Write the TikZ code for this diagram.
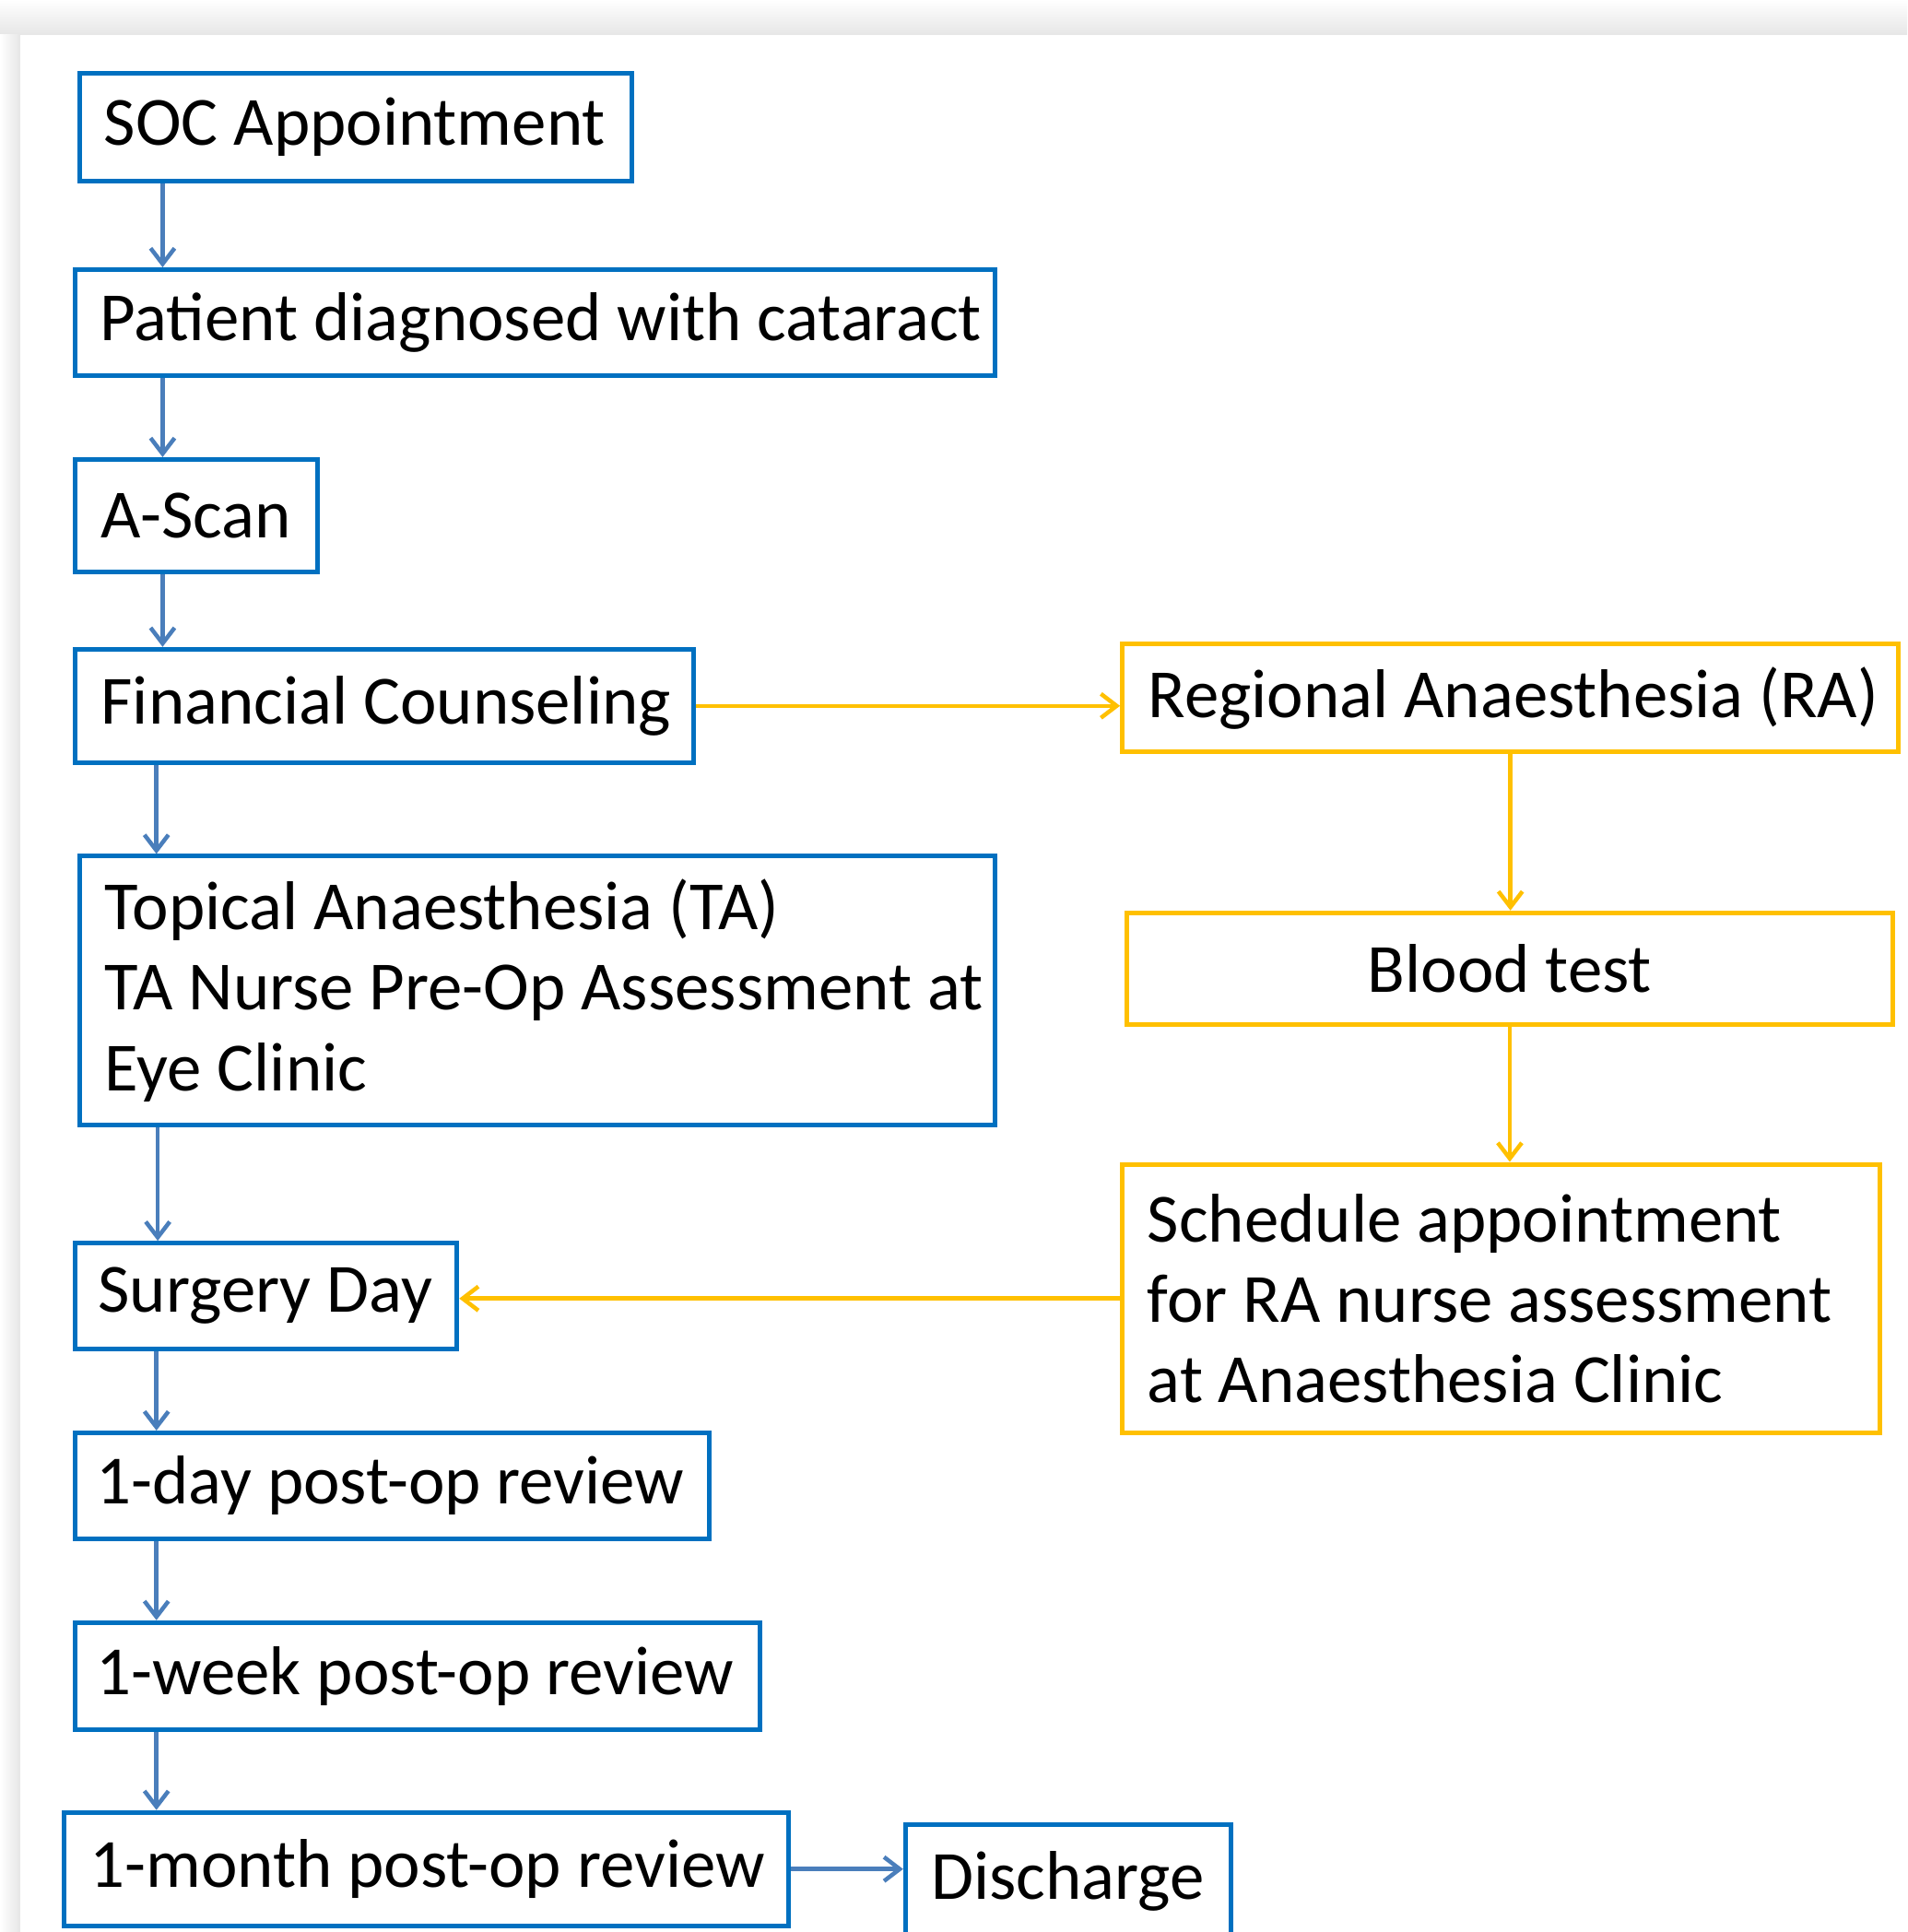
\documentclass[tikz,border=0pt]{standalone}
\usepackage{fontspec}
\setmainfont{Carlito}
\usetikzlibrary{arrows.meta}
\definecolor{bbord}{HTML}{0070C0}
\definecolor{barr}{HTML}{4A7EBB}
\definecolor{ybord}{HTML}{FFC000}
\definecolor{shad}{HTML}{E6E6E6}
\begin{document}
\begin{tikzpicture}[
  bbox/.style={draw=bbord, line width=0.05cm, anchor=north west, inner sep=0pt},
  ybox/.style={draw=ybord, line width=0.05cm, anchor=north west, inner sep=0pt},
  txt/.style={anchor=west, inner sep=0pt, align=left, font=\fontsize{21.3}{24.8}\selectfont, text=black},
  ctxt/.style={anchor=center, inner sep=0pt, align=center, font=\fontsize{21.3}{24.8}\selectfont, text=black},
  barrow/.style={draw=barr, line width=0.045cm, -{Straight Barb[length=0.17cm,width=0.26cm]}},
  yarrow/.style={draw=ybord, line width=0.045cm, -{Straight Barb[length=0.17cm,width=0.26cm]}},
]
\useasboundingbox (0,0) rectangle (20.69,-20.958);
% background with soft shadow
\fill[white] (0,0) rectangle (20.69,-20.958);
\shade[top color=white, bottom color=shad] (0,0) rectangle (20.69,-0.38);
\shade[left color=white, right color=shad] (0,-0.38) rectangle (0.22,-20.958);
\fill[white] (0.22,-0.38) rectangle (20.69,-20.958);

% column coordinates for connectors
\coordinate (xa) at (1.764,0);
\coordinate (xb) at (1.697,0);
\coordinate (xc) at (1.711,0);

% left column (blue)
\node[bbox, minimum width=5.988cm, minimum height=1.163cm] (soc) at (0.842,-0.775) {};
\node[txt] (soct) at ([xshift=0.28cm]soc.west) {SOC Appointment};

\node[bbox, minimum width=9.984cm, minimum height=1.150cm] (pat) at (0.789,-2.900) {};
\node[txt] (patt) at ([xshift=0.29cm]pat.west) {Patient diagnosed with cataract};

\node[bbox, minimum width=2.633cm, minimum height=1.216cm] (ascan) at (0.789,-4.959) {};
\node[txt] (ascant) at ([xshift=0.30cm]ascan.west) {A-Scan};

\node[bbox, minimum width=6.710cm, minimum height=1.230cm] (fin) at (0.789,-7.017) {};
\node[txt] (fint) at ([xshift=0.30cm]fin.west) {Financial Counseling};

\node[bbox, minimum width=9.931cm, minimum height=2.914cm] (top) at (0.842,-9.263) {};
\node[txt] (topt) at ([xshift=0.29cm]top.west) {Topical Anaesthesia (TA)\\TA Nurse Pre-Op Assessment at\\Eye Clinic};

\node[bbox, minimum width=4.143cm, minimum height=1.149cm] (surg) at (0.789,-13.460) {};
\node[txt] (surgt) at ([xshift=0.27cm]surg.west) {Surgery Day};

\node[bbox, minimum width=6.883cm, minimum height=1.149cm] (day) at (0.789,-15.518) {};
\node[txt] (dayt) at ([xshift=0.25cm]day.west) {1-day post-op review};

\node[bbox, minimum width=7.431cm, minimum height=1.163cm] (week) at (0.789,-17.576) {};
\node[txt] (weekt) at ([xshift=0.25cm]week.west) {1-week post-op review};

\node[bbox, minimum width=7.860cm, minimum height=1.230cm] (mon) at (0.668,-19.635) {};
\node[txt] (mont) at ([xshift=0.30cm]mon.west) {1-month post-op review};

\node[bbox, minimum width=3.529cm, minimum height=1.22cm] (dis) at (9.797,-19.768) {};
\node[txt] (dist) at ([xshift=0.30cm]dis.west) {Discharge};

% right column (yellow)
\node[ybox, minimum width=8.420cm, minimum height=1.163cm] (ra) at (12.150,-6.964) {};
\node[txt] (rat) at ([xshift=0.30cm]ra.west) {Regional Anaesthesia (RA)};

\node[ybox, minimum width=8.300cm, minimum height=1.216cm] (blood) at (12.203,-9.877) {};
\node[ctxt] (bloodt) at (blood.center) {Blood test};

\node[ybox, minimum width=8.220cm, minimum height=2.914cm] (sched) at (12.150,-12.604) {};
\node[txt] (schedt) at ([xshift=0.29cm]sched.west) {Schedule appointment\\for RA nurse assessment\\at Anaesthesia Clinic};

% blue connectors
\draw[barrow] (soc.south -| xa) -- (pat.north -| xa);
\draw[barrow] (pat.south -| xa) -- (ascan.north -| xa);
\draw[barrow] (ascan.south -| xa) -- (fin.north -| xa);
\draw[barrow] (fin.south -| xb) -- (top.north -| xb);
\draw[barrow] (top.south -| xc) -- (surg.north -| xc);
\draw[barrow] (surg.south -| xb) -- (day.north -| xb);
\draw[barrow] (day.south -| xb) -- (week.north -| xb);
\draw[barrow] (week.south -| xb) -- (mon.north -| xb);
\draw[barrow] (mon.east) -- (mon.east -| dis.west);

% yellow connectors
\draw[yarrow] (fin.east) -- (fin.east -| ra.west);
\draw[yarrow] (ra.south) -- (ra.south |- blood.north);
\draw[yarrow] (blood.south) -- (blood.south |- sched.north);
\draw[yarrow] (sched.west) -- (sched.west -| surg.east);
\end{tikzpicture}
\end{document}
